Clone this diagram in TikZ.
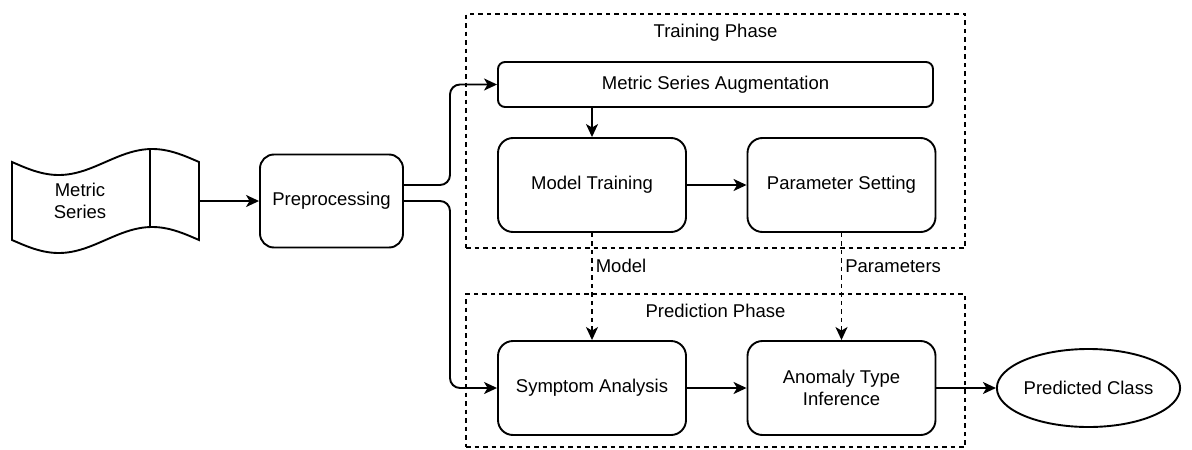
\documentclass[tikz,border=0pt]{standalone}
\usepackage{fontspec}
\setmainfont{Liberation Sans}
\usetikzlibrary{arrows.meta,shapes.geometric}
\begin{document}
\begin{tikzpicture}[x=1pt,y=-1pt,
  every node/.style={font=\fontsize{18.5}{21.5}\selectfont},
  box/.style={draw, line width=1.9pt, inner sep=0pt, align=center},
  proc/.style={box, rounded corners=15pt, minimum width=188pt, minimum height=94pt},
  phase/.style={draw, line width=1.5pt, dash pattern=on 4.5pt off 4pt, inner sep=0pt},
  flow/.style={line width=1.9pt, -{Stealth[length=13pt,width=12pt,inset=3.5pt]}},
  dflow/.style={flow, line width=1.6pt, dash pattern=on 4.5pt off 4pt},
  wire/.style={flow, rounded corners=10pt}]
\path[use as bounding box] (0,0) rectangle (1192,450);

% phase frames
\node[phase, minimum width=499pt, minimum height=234pt] (train) at (715.5,131) {};
\node[anchor=north] at ([yshift=-7pt]train.north) {Training Phase};
\node[phase, minimum width=499pt, minimum height=153pt] (pred) at (715.5,370.5) {};
\node[anchor=north] at ([yshift=-7pt]pred.north) {Prediction Phase};

% input tape
\draw[line width=1.9pt] (12,162) sin (58.75,175) cos (105.5,162) sin (152.25,149) cos (199,162)
  -- (199,240) sin (152.25,227) cos (105.5,240) sin (58.75,253) cos (12,240) -- cycle;
\draw[line width=1.9pt] (150,149) -- (150,227);
\node[align=center, minimum width=187pt, minimum height=78pt, inner sep=0pt] (metric) at (105.5,201) {};
\node[align=center] at (80,201) {Metric\\Series};

% process boxes
\node[box, rounded corners=14pt, minimum width=143pt, minimum height=93pt] (pre) at (331.5,201) {Preprocessing};
\node[box, rounded corners=7pt, minimum width=435pt, minimum height=45pt] (aug) at (715.5,84.5) {Metric Series Augmentation};
\node[proc] (mt) at (592,185) {Model Training};
\node[proc] (ps) at (841.5,185) {Parameter Setting};
\node[proc] (sa) at (592,388) {Symptom Analysis};
\node[proc] (ati) at (841.5,388) {Anomaly Type\\Inference};
\node[draw, line width=1.9pt, ellipse, inner sep=0pt, minimum width=177pt, minimum height=78pt] (pc) at (1088.5,388) {Predicted Class};

% branch points
\coordinate (up) at (450,150);
\coordinate (down) at (450,300);

% connectors
\draw[flow] (metric.east) -- (pre.west);
\draw[wire] ([yshift=16pt]pre.east) -| (up) |- (aug.west);
\draw[wire] (pre.east) -| (down) |- (sa.west);
\draw[flow] (aug.south -| mt.north) -- (mt.north);
\draw[flow] (mt) -- (ps);
\draw[dflow] (mt.south) -- node[pos=0.31, anchor=west, inner sep=3pt] {Model} (sa.north);
\draw[dflow] (ps.south) -- node[pos=0.31, anchor=west, inner sep=3pt] {Parameters} (ati.north);
\draw[flow] (sa) -- (ati);
\draw[flow] (ati) -- (pc);
\end{tikzpicture}
\end{document}
